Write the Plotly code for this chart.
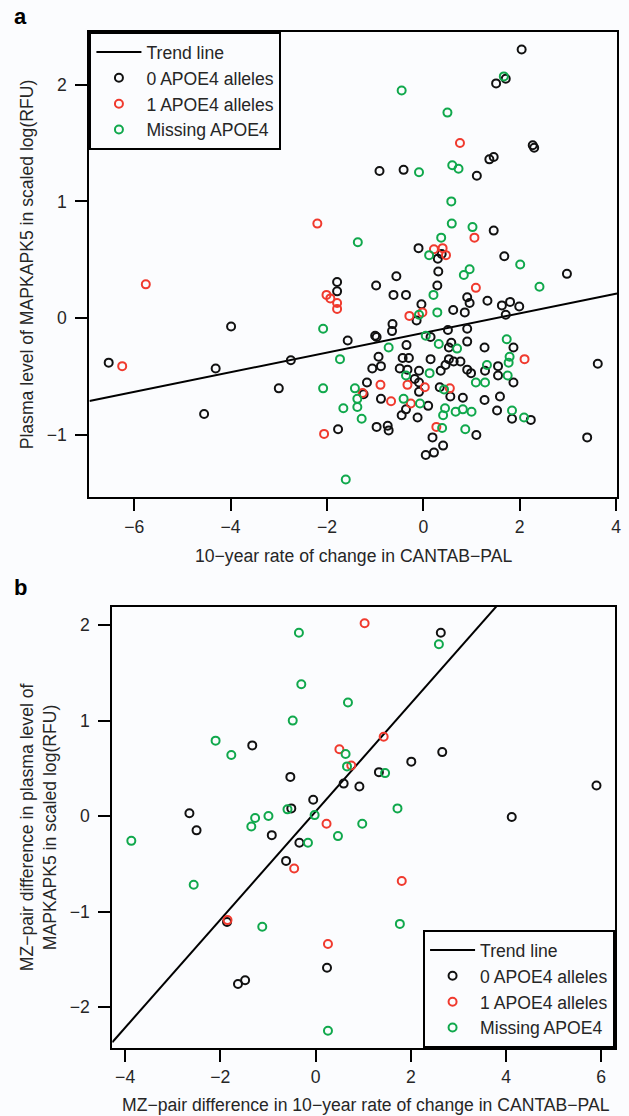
import plotly.graph_objects as go

# ---------------- Panel a data ----------------
a_black_x = [2.04, 1.51, 1.71, 2.27, 2.30, 1.37, 1.46, -0.91, -0.41, 1.11, 1.46, -0.10, 0.30, 0.38, 1.68,
             0.31, 0.29, 0.91, 0.96, 1.33, 1.63, 1.80, 1.99, 1.71, 0.62, 0.86, 2.98, -0.56, -0.98, -1.79,
             -1.79, -0.62, -0.36, -0.04, -0.14, 0.51, 0.91, -0.64, -0.65, -1.00, -0.97, -1.57, 0.15, 0.58,
             0.53, 0.91, 1.27, 1.87, -0.35, -0.93, -0.43, -0.30, 0.15, 0.53, 0.63, 0.77, 3.62, -1.06, -0.88,
             -0.49, -0.33, -0.09, 0.36, 0.46, 0.91, 0.99, 1.28, 1.55, 1.55, -0.18, -0.09, -1.17, 1.87, -1.24,
             -0.09, 0.34, 0.56, 0.82, 1.27, 1.59, -0.88, 0.10, -0.36, 1.53, -0.45, -0.12, 1.84, 2.23, -0.97,
             -0.74, -0.72, -1.77, 0.19, 1.10, 0.41, 0.05, 0.22, 3.40, -3.99, -6.53, -4.31, -2.75, -3.00, -4.55]
a_black_y = [2.30, 2.01, 2.05, 1.48, 1.46, 1.36, 1.38, 1.26, 1.27, 1.22, 0.75, 0.60, 0.51, 0.55, 0.53,
             0.40, 0.28, 0.18, 0.13, 0.15, 0.11, 0.14, 0.10, 0.03, 0.07, 0.05, 0.38, 0.36, 0.28, 0.31,
             0.23, 0.20, 0.20, 0.12, -0.02, -0.10, -0.09, -0.05, -0.11, -0.15, -0.16, -0.19, -0.16, -0.21,
             -0.25, -0.20, -0.25, -0.25, -0.23, -0.33, -0.34, -0.34, -0.35, -0.35, -0.37, -0.37, -0.39, -0.43, -0.41,
             -0.43, -0.44, -0.45, -0.45, -0.40, -0.44, -0.47, -0.45, -0.41, -0.49, -0.52, -0.55, -0.55, -0.55, -0.65,
             -0.63, -0.59, -0.67, -0.68, -0.70, -0.67, -0.69, -0.75, -0.78, -0.79, -0.83, -0.85, -0.86, -0.87, -0.93,
             -0.92, -0.96, -0.95, -1.02, -1.00, -1.09, -1.17, -1.15, -1.02, -0.07, -0.38, -0.43, -0.36, -0.60, -0.82]

a_red_x = [-2.20, 0.76, 1.06, 0.22, 0.40, 0.47, 1.09, -2.01, -1.93, -1.79, -1.79, -0.29, -0.02, 2.10, -0.89,
           -0.33, 0.03, -1.26, 0.55, -0.67, -0.26, -2.06, 0.27, -5.76, -6.25]
a_red_y = [0.81, 1.50, 0.69, 0.59, 0.60, 0.54, 0.26, 0.20, 0.17, 0.13, 0.08, 0.02, 0.05, -0.35, -0.57,
           -0.57, -0.59, -0.64, -0.60, -0.71, -0.73, -0.99, -0.93, 0.29, -0.41]

a_green_x = [1.67, -0.45, 0.50, -0.09, 0.60, 0.73, 0.58, -1.36, 0.59, 1.02, 0.37, 0.12, 2.01, 0.96, 0.84,
             2.41, 0.21, 0.29, -0.09, -2.08, 0.05, 0.32, 0.70, 1.73, -0.72, -1.73, 1.79, 1.77, 1.32, 0.13,
             1.75, -0.36, 1.09, 1.28, -2.08, -1.42, 0.43, -1.37, -1.37, -0.41, -0.07, -1.66, 0.45, 0.41, 0.67,
             0.82, 1.00, 1.84, -1.28, 2.09, 0.39, 0.87, -1.61]
a_green_y = [2.07, 1.95, 1.76, 1.25, 1.31, 1.28, 1.00, 0.65, 0.81, 0.78, 0.69, 0.54, 0.46, 0.42, 0.37,
             0.27, 0.20, 0.05, 0.03, -0.09, -0.15, -0.22, -0.26, -0.18, -0.25, -0.35, -0.33, -0.38, -0.40, -0.47,
             -0.49, -0.49, -0.55, -0.55, -0.60, -0.60, -0.61, -0.69, -0.76, -0.69, -0.73, -0.77, -0.77, -0.83, -0.80,
             -0.78, -0.80, -0.79, -0.86, -0.85, -0.94, -0.95, -1.38]

a_slope = 0.0841
a_intercept = -0.126
a_xrange = [-6.93, 4.02]
a_yrange = [-1.53, 2.45]
a_xticks = [-6, -4, -2, 0, 2, 4]
a_yticks = [-1, 0, 1, 2]

# ---------------- Panel b data ----------------
b_black_x = [-1.33, -0.53, -0.05, -2.65, -2.50, -0.51, -0.92, -0.34, -0.62, -1.86, -1.63, -1.48, 2.63, 2.66,
             2.01, 1.33, 0.59, 0.92, 5.90, 4.12, 0.24]
b_black_y = [0.74, 0.41, 0.17, 0.03, -0.15, 0.08, -0.20, -0.28, -0.47, -1.11, -1.76, -1.72, 1.92, 0.67,
             0.57, 0.46, 0.34, 0.31, 0.32, -0.01, -1.59]

b_red_x = [1.03, 1.43, 0.50, 0.75, 0.23, -0.45, -1.85, 1.81, 0.26]
b_red_y = [2.02, 0.83, 0.70, 0.53, -0.08, -0.55, -1.09, -0.68, -1.34]

b_green_x = [-0.35, -0.30, -0.48, -2.10, -1.77, -0.59, -0.02, -0.99, -1.27, -1.35, -3.87, -0.16, -2.56, -1.12,
             2.59, 0.68, 0.63, 0.66, 1.46, 1.72, 0.98, 0.47, 1.77, 0.26]
b_green_y = [1.92, 1.38, 1.00, 0.79, 0.64, 0.07, 0.01, 0.00, -0.02, -0.11, -0.26, -0.28, -0.72, -1.16,
             1.80, 1.19, 0.65, 0.52, 0.45, 0.08, -0.08, -0.21, -1.13, -2.25]

b_slope = 0.566
b_intercept = 0.047
b_xrange = [-4.27, 6.29]
b_yrange = [-2.43, 2.19]
b_xticks = [-4, -2, 0, 2, 4, 6]
b_yticks = [-2, -1, 0, 1, 2]

series_names = ["Trend line", "0 APOE4 alleles", "1 APOE4 alleles", "Missing APOE4"]
a_xtitle = "10\u2212year rate of change in CANTAB\u2212PAL"
a_ytitle = "Plasma level of MAPKAPK5 in scaled log(RFU)"
b_xtitle = "MZ\u2212pair difference in 10\u2212year rate of change in CANTAB\u2212PAL"
b_ytitle = "MZ\u2212pair difference in plasma level of<br>MAPKAPK5 in scaled log(RFU)"

# ---------------- Styling ----------------
FONT = "Liberation Sans, Arial, Helvetica, sans-serif"
FS = 17.6
TXT = "#262626"
BLACK = "#111111"
RED = "#f03a2e"
GREEN = "#10a84c"
BG = "#fbfcfe"
MSIZE = 8
MLW = 2

W, H = 629, 1116
# plot areas in pixels
a_px = dict(l=90, r=621, t=32, b=497)
b_px = dict(l=113, r=619, t=607, b=1048)


def dom_x(p):
    return [p["l"] / W, p["r"] / W]


def dom_y(p):
    return [(H - p["b"]) / H, (H - p["t"]) / H]


def px_x(v):
    return v / W


def px_y(v):
    return 1 - v / H


fig = go.Figure()


def add_panel(xa, ya, legend, slope, intercept, xr, groups):
    lx = [xr[0], xr[1]]
    ly = [intercept + slope * v for v in lx]
    fig.add_trace(go.Scatter(x=lx, y=ly, mode="lines", name=series_names[0],
                             line=dict(color="black", width=2),
                             xaxis=xa, yaxis=ya, legend=legend, hoverinfo="skip"))
    for (gx, gy, col), nm in zip(groups, series_names[1:]):
        fig.add_trace(go.Scatter(x=gx, y=gy, mode="markers", name=nm,
                                 marker=dict(symbol="circle-open", size=MSIZE, color=col,
                                             line=dict(width=MLW, color=col)),
                                 xaxis=xa, yaxis=ya, legend=legend, cliponaxis=False))


add_panel("x", "y", "legend", a_slope, a_intercept, a_xrange,
          [(a_black_x, a_black_y, BLACK), (a_red_x, a_red_y, RED), (a_green_x, a_green_y, GREEN)])
add_panel("x2", "y2", "legend2", b_slope, b_intercept, b_xrange,
          [(b_black_x, b_black_y, BLACK), (b_red_x, b_red_y, RED), (b_green_x, b_green_y, GREEN)])

axis_common = dict(showline=True, mirror=True, linecolor="black", linewidth=2,
                   ticks="outside", ticklen=12, tickwidth=2, tickcolor="black",
                   showgrid=False, zeroline=False,
                   tickfont=dict(family=FONT, size=FS, color=TXT))

legend_common = dict(bgcolor=BG, bordercolor="black", borderwidth=2, itemwidth=45,
                     font=dict(family=FONT, size=FS, color=TXT), tracegroupgap=0,
                     itemclick=False, itemdoubleclick=False)

fig.update_layout(
    width=W, height=H,
    margin=dict(l=0, r=0, t=0, b=0),
    paper_bgcolor=BG, plot_bgcolor=BG,
    font=dict(family=FONT, size=FS, color=TXT),
    xaxis=dict(domain=dom_x(a_px), range=a_xrange, tickvals=a_xticks, anchor="y",
               ticklabelstandoff=1, **axis_common),
    yaxis=dict(domain=dom_y(a_px), range=a_yrange, tickvals=a_yticks, anchor="x",
               ticklabelstandoff=5, **axis_common),
    xaxis2=dict(domain=dom_x(b_px), range=b_xrange, tickvals=b_xticks, anchor="y2",
                ticklabelstandoff=0, **axis_common),
    yaxis2=dict(domain=dom_y(b_px), range=b_yrange, tickvals=b_yticks, anchor="x2",
                ticklabelstandoff=5, **axis_common),
    legend=dict(x=dom_x(a_px)[0], y=dom_y(a_px)[1], xanchor="left", yanchor="top", **legend_common),
    legend2=dict(x=dom_x(b_px)[1], y=dom_y(b_px)[0], xanchor="right", yanchor="bottom", **legend_common),
    showlegend=True,
)


def ann(text, x, y, size=FS, angle=0, color=TXT):
    return dict(text=text, x=px_x(x), y=px_y(y), xref="paper", yref="paper",
                xanchor="center", yanchor="middle", showarrow=False, textangle=angle,
                font=dict(family=FONT, size=size, color=color))


annotations = [
    ann("<b>a</b>", 21, 17, size=22, color="black"),
    ann("<b>b</b>", 21, 587, size=22, color="black"),
    ann(a_xtitle, (a_px["l"] + a_px["r"]) / 2, 556),
    ann(a_ytitle, 27, (a_px["t"] + a_px["b"]) / 2, angle=-90),
    ann(b_xtitle, (b_px["l"] + b_px["r"]) / 2 + 2, 1105),
    ann(b_ytitle, 39, (b_px["t"] + b_px["b"]) / 2, angle=-90),
]
fig.update_layout(annotations=annotations)

fig.write_html("out.html", config={"displayModeBar": False},
               post_script="document.body.style.margin='0px';")
